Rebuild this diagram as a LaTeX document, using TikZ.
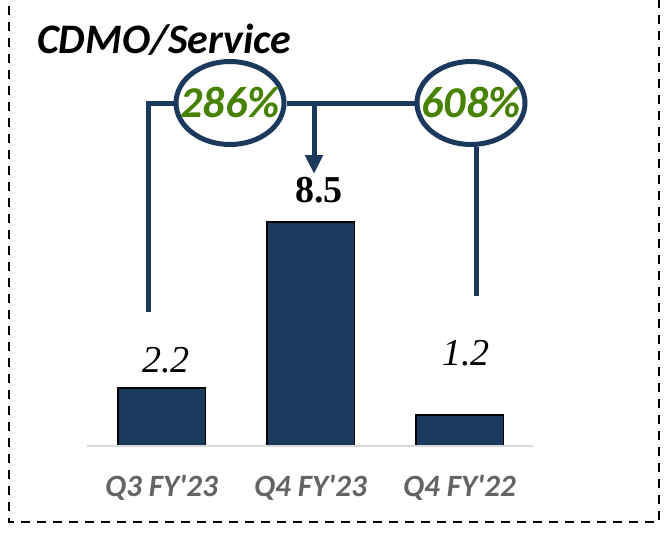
\documentclass[tikz,border=0pt]{standalone}
\usepackage{fontspec}
\setmainfont{Liberation Serif}
\newfontfamily\carlito{Carlito}[Ligatures=TeXOff]
\usepackage{tikz}
\usetikzlibrary{shapes,arrows.meta}
\definecolor{barcolor}{RGB}{27,56,93}
\definecolor{growthcolor}{RGB}{70,130,0}
\definecolor{labelgray}{RGB}{100,100,100}

\begin{document}
\begin{tikzpicture}[
    x=1pt, y=-1pt,
    bar/.style={rectangle, draw=black, line width=1.5pt, fill=barcolor, minimum width=87.5pt, inner sep=0pt, anchor=south},
    growth/.style={ellipse, draw=barcolor, line width=5pt, minimum width=108pt, minimum height=83pt, inner sep=0pt, text=growthcolor, font=\carlito\bfseries\itshape\fontsize{44}{44}\selectfont},
    link/.style={draw=barcolor, line width=5pt},
    cat/.style={anchor=base, text=labelgray, font=\carlito\bfseries\itshape\fontsize{31}{31}\selectfont},
    val/.style={anchor=base, inner sep=0pt, font=\fontsize{38}{38}\selectfont},
    frame/.style={draw=black, line width=2.2pt, dash pattern=on 9pt off 7pt}
]
    \useasboundingbox (0,0) rectangle (667,533);

    % Dashed frame (top edge lies outside the picture)
    \draw[frame] (9,-10) -- (9,522) -- (659,522) -- (659,-10);

    % Title
    \node[anchor=base west, inner sep=0pt, font=\carlito\bfseries\itshape\fontsize{42}{42}\selectfont] (title) at (37,53) {CDMO/Service};

    % Bars with quarter labels
    \foreach \i/\x/\h/\q in {1/161.5/57.25/Q3 FY'23, 2/310.5/223.25/Q4 FY'23, 3/459.5/30.25/Q4 FY'22} {
        \node[bar, minimum height=\h pt] (b\i) at (\x,446) {};
        \node[cat] (q\i) at (\x,496) {\q};
    }
    \draw[draw=black!15, line width=2pt] (87,446) -- (533,446);

    % Values
    \node[val] (v1) at (166,372) {\itshape 2.2};
    \node[val] (v2) at (319,202) {\bfseries 8.5};
    \node[val] (v3) at (466,365) {\itshape 1.2};

    % Growth rates (zero-width text keeps the ellipse size fixed)
    \node[growth] (g1) at (230,103) {\makebox[0pt]{286\%}};
    \node[growth] (g2) at (471,103) {\makebox[0pt]{608\%}};

    % Connectors
    \coordinate (lend) at (148,312);
    \coordinate (fork) at (314,103);
    \coordinate (atip) at (314,174);
    \coordinate (rend) at (476,296);
    \draw[link] (g1.west) -| (lend);
    \draw[link] (g1.east) -- (g2.west);
    \draw[link, -{Triangle[width=17pt,length=19pt]}] (fork) -- (atip);
    \draw[link] (g2.south -| rend) -- (rend);
\end{tikzpicture}
\end{document}
